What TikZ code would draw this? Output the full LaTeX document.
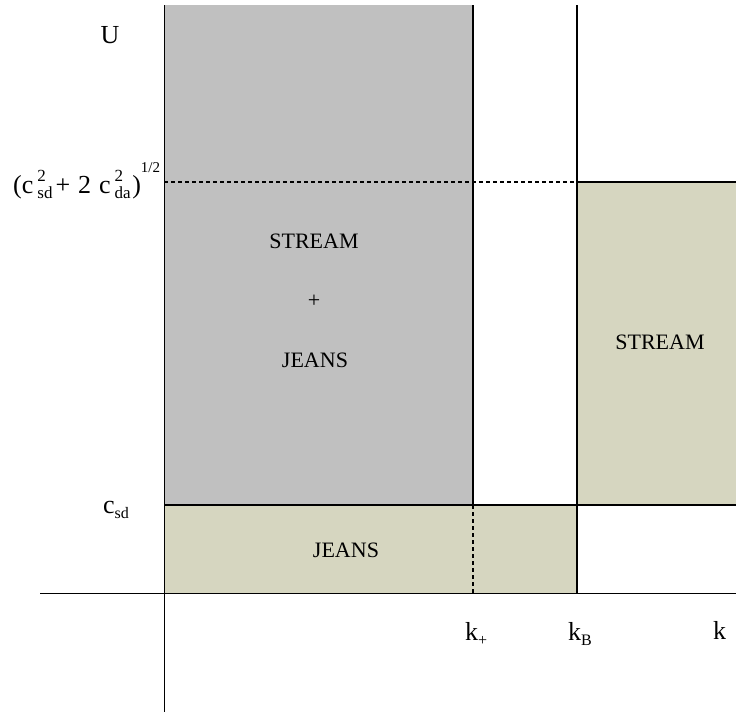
\documentclass[tikz,border=0pt]{standalone}
\usepackage{fontspec}
\setmainfont{Liberation Serif}
\usepackage{xcolor}
\usepackage{tikz}
\usetikzlibrary{positioning, calc}
\definecolor{regiongray}{HTML}{C0C0C0}
\definecolor{regionkhaki}{HTML}{D6D6C0}
\newcommand{\smallidx}{\fontsize{16}{16}\selectfont}
\newcommand{\supsub}[2]{\makebox[0pt][l]{\raisebox{0.45em}{\fontsize{17}{17}\selectfont #1}}\raisebox{-0.2em}{\fontsize{17}{17}\selectfont #2}}
\newcommand{\lowidx}[1]{\raisebox{-0.2em}{\smallidx #1}}

\begin{document}
\begin{tikzpicture}[
    x=1pt, y=-1pt,
    axis/.style={draw=black, line width=0.8pt},
    border/.style={draw=black, line width=1.6pt},
    dashline/.style={draw=black, line width=1.4pt, dash pattern=on 4pt off 3pt},
    regionlbl/.style={font=\fontsize{22}{26}\selectfont, anchor=base},
    axislbl/.style={font=\fontsize{26}{30}\selectfont, anchor=base west, inner sep=0pt},
]
    \useasboundingbox (0,0) rectangle (736,713);

    % Corner points
    \coordinate (top1) at (473,5);
    \coordinate (top2) at (577,5);
    \coordinate (mid1) at (473,505);
    \coordinate (mid2) at (577,505);
    \coordinate (bot1) at (473,593);
    \coordinate (bot2) at (577,593);
    \coordinate (csdL) at (164,505);
    \coordinate (csdR) at (736,505);
    \coordinate (capL) at (164,182);
    \coordinate (capM) at (577,182);
    \coordinate (capR) at (736,182);

    % Regions
    \fill[regiongray] (164,5) rectangle (mid1);
    \fill[regionkhaki] (csdL) rectangle (bot2);
    \fill[regionkhaki] (capM) rectangle (csdR);

    % Axes
    \coordinate (xstart) at (40,593);
    \coordinate (xend) at (736,593);
    \coordinate (ystart) at (164,5);
    \coordinate (yend) at (164,712);
    \draw[axis] (xstart) -- (xend);
    \draw[axis] (ystart) -- (yend);

    % Boundaries
    \draw[border] (top1) -- (mid1);
    \draw[dashline] (mid1) -- (bot1);
    \draw[border] (top2) -- (bot2);
    \draw[border] (csdL) -- (csdR);
    \draw[dashline] (capL) -- (capM);
    \draw[border] (capM) -- (capR);

    % Region labels
    \node[regionlbl] (streamA) at (314,248) {STREAM};
    \node[regionlbl] (plus) at (314,307) {+};
    \node[regionlbl] (jeansA) at (315,367) {JEANS};
    \node[regionlbl] (streamB) at (660,349) {STREAM};
    \node[regionlbl] (jeansB) at (346,557) {JEANS};

    % Axis labels
    \node[axislbl, anchor=base] (ulbl) at (110,43) {U};
    \node[axislbl] (caplbl) at (13,193) {(c\hspace{4pt}\supsub{2}{sd}\hspace{3pt}+\hspace{8pt}2\hspace{8pt}c\hspace{4pt}\supsub{2}{da}\hspace{1.5pt})\raisebox{0.77em}{\fontsize{15}{15}\selectfont 1/2}};
    \node[axislbl] (csdlbl) at (103,513) {c\lowidx{sd}};
    \node[axislbl] (kplus) at (465,640) {k\lowidx{+}};
    \node[axislbl] (kB) at (568,640) {k\lowidx{B}};
    \node[axislbl] (klbl) at (713,639) {k};

\end{tikzpicture}
\end{document}
